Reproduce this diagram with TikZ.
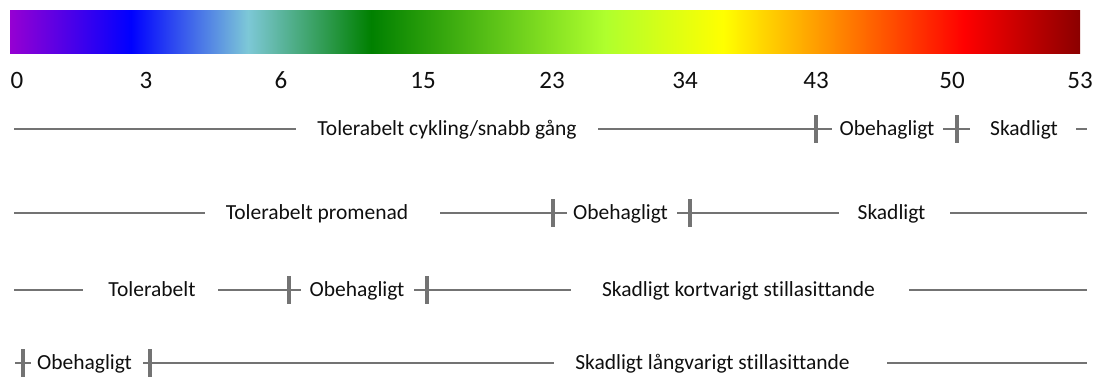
\documentclass[tikz,border=0pt]{standalone}
\usepackage{fontspec}
\setmainfont{Carlito}[Ligatures={NoCommon}]
\definecolor{cviolet}{RGB}{150,0,210}
\definecolor{cblue}{RGB}{0,0,255}
\definecolor{clight}{RGB}{125,200,215}
\definecolor{cgreen}{RGB}{0,128,0}
\definecolor{cyg}{RGB}{175,255,45}
\definecolor{cyellow}{RGB}{255,255,0}
\definecolor{corange}{RGB}{255,165,0}
\definecolor{cred}{RGB}{255,0,0}
\definecolor{cdark}{RGB}{139,0,0}
\definecolor{rulegray}{RGB}{115,115,115}
\definecolor{txt}{RGB}{15,15,15}
\pgfdeclarehorizontalshading{tempscale}{100bp}{%
color(0bp)=(cviolet); color(25bp)=(cviolet); color(30.65bp)=(cblue);
color(36.12bp)=(clight); color(41.87bp)=(cgreen); color(52.8bp)=(cyg);
color(58.32bp)=(cyellow); color(62.34bp)=(corange); color(69.58bp)=(cred);
color(75bp)=(cdark); color(100bp)=(cdark)}
\tikzset{
  rule/.style={draw=rulegray, line width=2.7pt},
  tickmark/.style={draw=rulegray, line width=3.1pt},
  lab/.style={anchor=base, inner sep=0pt, text=txt, font=\fontsize{21.5}{26}\selectfont},
  num/.style={anchor=base, inner sep=0pt, text=txt, font=\fontsize{25}{30}\selectfont},
}
\begin{document}
\begin{tikzpicture}[x=1pt,y=-1pt]
\useasboundingbox (0,0) rectangle (1102,378);
% colour bar
\shade[shading=tempscale] (10,10) rectangle (1080,53);
% numbers
\node[num] (n0)  at (17,88)   {0};
\node[num] (n3)  at (146,88)  {3};
\node[num] (n6)  at (281,88)  {6};
\node[num] (n15) at (423,88)  {15};
\node[num] (n23) at (552,88)  {23};
\node[num] (n34) at (685,88)  {34};
\node[num] (n43) at (816,88)  {43};
\node[num] (n50) at (952,88)  {50};
\node[num] (n53) at (1080,88) {53};
% ---- row 1
\node[lab] (a1) at (447,135.5) {Tolerabelt cykling/snabb gång};
\node[lab] (a2) at (887,135.5) {Obehagligt};
\node[lab] (a3) at (1024,135.5) {Skadligt};
\coordinate (k43) at (816,129);
\coordinate (k50) at (957,129);
\draw[rule] (14,129) -- (296,129);
\draw[rule] (598,129) -- (k43) -- (832,129);
\draw[rule] (943,129) -- (970,129);
\draw[rule] (1076,129) -- (1087,129);
\draw[tickmark] ([yshift=14pt]k43) -- ([yshift=-14pt]k43);
\draw[tickmark] ([yshift=14pt]k50) -- ([yshift=-14pt]k50);
% ---- row 2
\node[lab] (b1) at (317,219.5) {Tolerabelt promenad};
\node[lab] (b2) at (620.5,219.5) {Obehagligt};
\node[lab] (b3) at (891.5,219.5) {Skadligt};
\coordinate (k23) at (553,213);
\coordinate (k34) at (690,213);
\draw[rule] (14,213) -- (205,213);
\draw[rule] (440,213) -- (567,213);
\draw[rule] (677,213) -- (839,213);
\draw[rule] (950,213) -- (1087,213);
\draw[tickmark] ([yshift=14pt]k23) -- ([yshift=-14pt]k23);
\draw[tickmark] ([yshift=14pt]k34) -- ([yshift=-14pt]k34);
% ---- row 3
\node[lab] (c1) at (152,296.5) {Tolerabelt};
\node[lab] (c2) at (357,296.5) {Obehagligt};
\node[lab] (c3) at (738.5,296.5) {Skadligt kortvarigt stillasittande};
\coordinate (k6) at (289,290);
\coordinate (k15) at (427,290);
\draw[rule] (14,290) -- (83,290);
\draw[rule] (218,290) -- (301,290);
\draw[rule] (414,290) -- (571,290);
\draw[rule] (909,290) -- (1087,290);
\draw[tickmark] ([yshift=14pt]k6) -- ([yshift=-14pt]k6);
\draw[tickmark] ([yshift=14pt]k15) -- ([yshift=-14pt]k15);
% ---- row 4
\node[lab] (d1) at (84.5,369.5) {Obehagligt};
\node[lab] (d2) at (712.5,369.5) {Skadligt långvarigt stillasittande};
\coordinate (k0) at (23,363);
\coordinate (k3) at (150,363);
\draw[rule] (15,363) -- (31,363);
\draw[rule] (143,363) -- (554,363);
\draw[rule] (887,363) -- (1087,363);
\draw[tickmark] ([yshift=14pt]k0) -- ([yshift=-14pt]k0);
\draw[tickmark] ([yshift=14pt]k3) -- ([yshift=-14pt]k3);
\end{tikzpicture}
\end{document}
